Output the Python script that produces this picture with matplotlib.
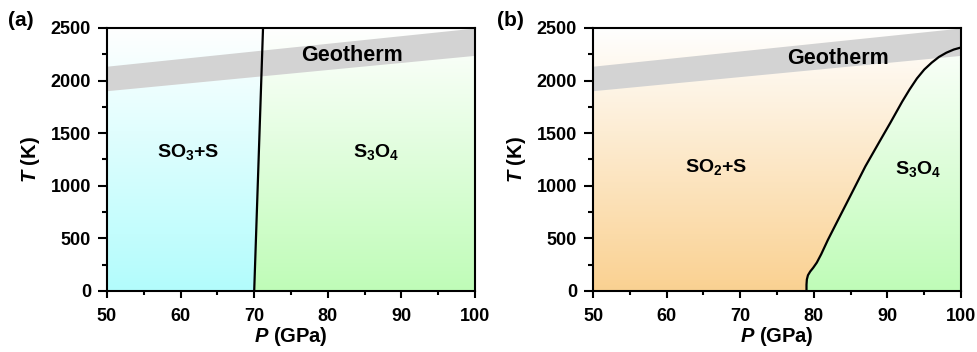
import numpy as np
import matplotlib
matplotlib.use("Agg")
import matplotlib.pyplot as plt
from matplotlib.patches import Polygon
from matplotlib.ticker import MultipleLocator

plt.rcParams['font.family'] = ['Liberation Sans', 'DejaVu Sans']
plt.rcParams['font.weight'] = 'bold'
plt.rcParams['mathtext.fontset'] = 'custom'
plt.rcParams['mathtext.rm'] = 'Liberation Sans:bold'
plt.rcParams['mathtext.bf'] = 'Liberation Sans:bold'
plt.rcParams['mathtext.it'] = 'Liberation Sans:bold:italic'

# ---- data ----
P_range = [50, 100]
T_range = [0, 2500]
geo_P = [50, 100]
geo_T_low = [1904, 2240]
geo_T_high = [2137, 2500]

# panel (a) boundary
bnd_a_P = [70.0, 71.2]
bnd_a_T = [0, 2500]

# panel (b) boundary
bnd_b_P = [79.0, 79.0, 79.05, 79.2, 79.5, 79.9, 80.4, 81.0, 81.9, 83.1, 85.0, 87.0, 89.0,
           90.4, 92.0, 93.0, 94.0, 95.0, 96.0, 97.0, 98.0, 99.0, 100.0]
bnd_b_T = [0, 60, 110, 150, 185, 220, 270, 350, 485, 650, 910, 1185, 1430,
           1600, 1800, 1915, 2020, 2105, 2170, 2225, 2265, 2295, 2315]

col_cyan = (0.70, 0.99, 0.99)
col_green = (0.75, 0.99, 0.72)
col_orange = (0.98, 0.82, 0.57)
col_band = '#d3d3d3'

fig = plt.figure(figsize=(9.77, 3.52), dpi=100)
axA = fig.add_axes([0.1095, 0.1733, 0.3767, 0.7472])
axB = fig.add_axes([0.607, 0.1733, 0.3767, 0.7472])


def grad_fill(ax, verts, color):
    n = 256
    t = np.linspace(0, 1, n)[:, None]
    c = np.array(color)
    img = np.ones((n, 2, 3))
    for k in range(3):
        img[:, :, k] = c[k] + (1 - c[k]) * t
    im = ax.imshow(img, extent=[P_range[0], P_range[1], T_range[0], T_range[1]],
                   origin='lower', aspect='auto', interpolation='bilinear', zorder=1)
    poly = Polygon(verts, closed=True, transform=ax.transData, facecolor='none',
                   edgecolor='none')
    ax.add_patch(poly)
    im.set_clip_path(poly)


def style(ax):
    ax.set_xlim(P_range)
    ax.set_ylim(T_range)
    ax.xaxis.set_major_locator(MultipleLocator(10))
    ax.xaxis.set_minor_locator(MultipleLocator(5))
    ax.yaxis.set_major_locator(MultipleLocator(500))
    ax.yaxis.set_minor_locator(MultipleLocator(250))
    ax.tick_params(which='both', direction='out', width=1.5, labelsize=13,
                   top=False, right=False)
    ax.tick_params(axis='x', which='major', length=5, pad=7)
    ax.tick_params(axis='x', which='minor', length=3)
    ax.tick_params(axis='y', which='major', length=6.5, pad=5)
    ax.tick_params(axis='y', which='minor', length=3.5)
    for s in ax.spines.values():
        s.set_linewidth(1.5)
        s.set_zorder(10)
    for lab in ax.get_xticklabels() + ax.get_yticklabels():
        lab.set_fontweight('bold')
    ax.set_xlabel(r'$\mathit{P}$ (GPa)', fontsize=14.5, fontweight='bold', labelpad=0)
    ax.set_ylabel(r'$\mathit{T}$ (K)', fontsize=14.5, fontweight='bold', labelpad=6)
    ax.fill_between(geo_P, geo_T_low, geo_T_high, color=col_band, lw=0, zorder=3)


# panel (a)
left_a = [(50, 0), (bnd_a_P[0], bnd_a_T[0]), (bnd_a_P[1], bnd_a_T[1]), (50, 2500)]
right_a = [(bnd_a_P[0], bnd_a_T[0]), (100, 0), (100, 2500), (bnd_a_P[1], bnd_a_T[1])]
grad_fill(axA, left_a, col_cyan)
grad_fill(axA, right_a, col_green)
style(axA)
axA.plot(bnd_a_P, bnd_a_T, color='black', lw=1.6, zorder=5)
axA.text(83.3, 2234, 'Geotherm', fontsize=15.5, fontweight='bold', ha='center', va='center', zorder=6)
axA.text(61.0, 1320, r'SO$_{3}$+S', fontsize=14, fontweight='bold', ha='center', va='center', zorder=6)
axA.text(86.5, 1320, r'S$_{3}$O$_{4}$', fontsize=14, fontweight='bold', ha='center', va='center', zorder=6)

# panel (b)
curve_b = list(zip(bnd_b_P, bnd_b_T))
left_b = [(50, 0)] + curve_b + [(100, 2500), (50, 2500)]
right_b = curve_b + [(100, 0)]
grad_fill(axB, left_b, col_orange)
grad_fill(axB, right_b, col_green)
style(axB)
axB.plot(bnd_b_P, bnd_b_T, color='black', lw=1.6, zorder=5, solid_joinstyle='round')
axB.text(83.3, 2213, 'Geotherm', fontsize=15.5, fontweight='bold', ha='center', va='center', zorder=6)
axB.text(66.7, 1180, r'SO$_{2}$+S', fontsize=14, fontweight='bold', ha='center', va='center', zorder=6)
axB.text(94.2, 1160, r'S$_{3}$O$_{4}$', fontsize=14, fontweight='bold', ha='center', va='center', zorder=6)

fig.text(8 / 977, 1 - 20 / 352, '(a)', fontsize=15, fontweight='bold', ha='left', va='center')
fig.text(497 / 977, 1 - 20 / 352, '(b)', fontsize=15, fontweight='bold', ha='left', va='center')

fig.savefig('out.png', dpi=100)
